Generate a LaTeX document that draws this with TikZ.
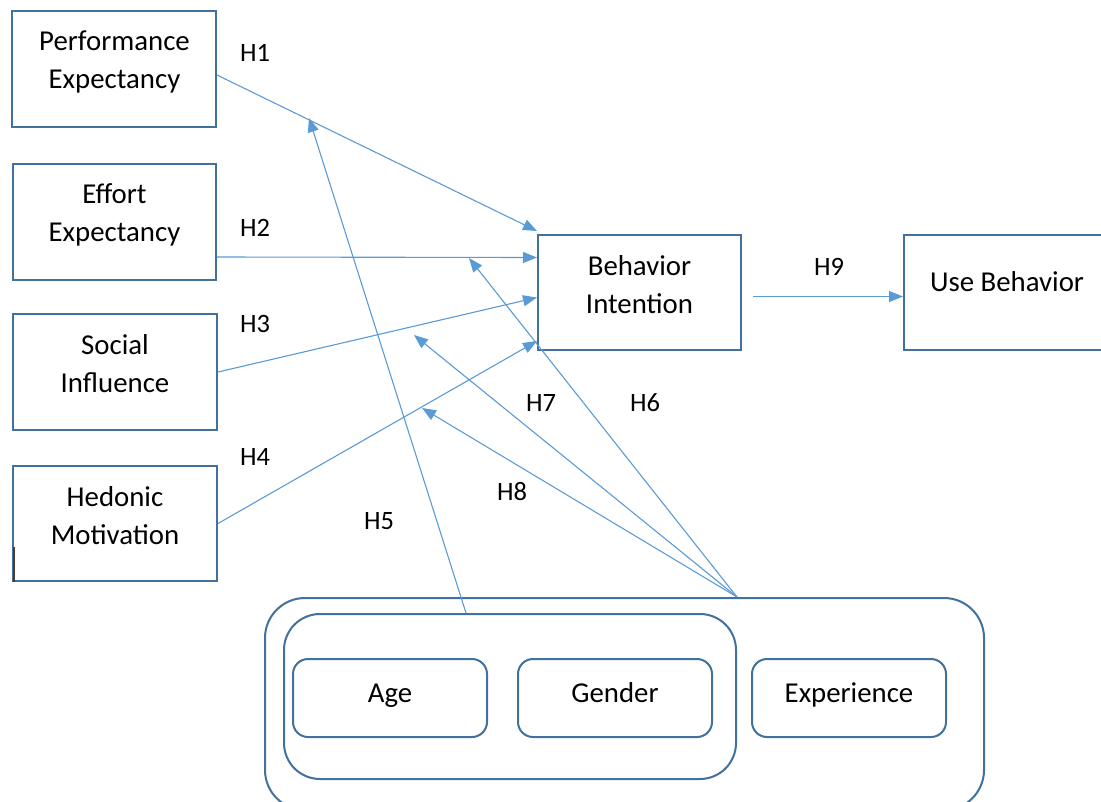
\documentclass[tikz,border=0pt]{standalone}
\usepackage{fontspec}
\setmainfont{Carlito}
\usetikzlibrary{arrows.meta,calc}
\definecolor{boxc}{RGB}{65,113,156}
\definecolor{arrc}{RGB}{91,155,213}
\definecolor{markc}{RGB}{80,60,45}
\begin{document}
\begin{tikzpicture}[x=1pt,y=-1pt,
  box/.style={draw=boxc,line width=2pt,minimum width=204,minimum height=116,inner sep=0pt},
  rbox/.style={draw=boxc,line width=2pt,rounded corners=#1,inner sep=0pt},
  txt/.style={font=\fontsize{28.8}{38}\selectfont,align=center,inner sep=0pt},
  hlab/.style={font=\fontsize{26.5}{30}\selectfont,inner sep=0pt},
  conn/.style={draw=arrc,line width=1.1pt,-{Triangle[length=14pt,width=11pt]}}]
\useasboundingbox (0,0) rectangle (1101,801);
\clip (0,0) rectangle (1101,801);
\fill[white] (0,0) rectangle (1101,801);
% left boxes
\node[box] (pe) at (114,69) {};
\node[box,minimum width=203] (ee) at (114.5,222) {};
\node[box] (si) at (115,372) {};
\node[box,minimum height=115] (hm) at (115,523.5) {};
\node[txt] (pet) at (114.5,61.5) {Performance\\Expectancy};
\node[txt] (eet) at (114.5,214.5) {Effort\\Expectancy};
\node[txt] (sit) at (115,364) {Social\\Influence};
\node[txt] (hmt) at (115,516) {Hedonic\\Motivation};
\draw[markc,line width=2pt] ($(hm.south west)+(1.5,0)$) -- ++(0,-35);
% center and right boxes
\node[box,minimum width=203,minimum height=115] (bi) at (639.5,292.5) {};
\node[txt] (bit) at (639.5,284.5) {Behavior\\Intention};
\node[box,minimum width=202,minimum height=115] (ub) at (1005,292.5) {};
\node[txt] (ubt) at (1007,282) {Use Behavior};
% moderators
\node[rbox=40pt,minimum width=719,minimum height=212] (outer) at (624.5,704) {};
\node[rbox=36pt,minimum width=452,minimum height=165] (inner) at (510,696.5) {};
\node[rbox=15pt,minimum width=194,minimum height=78] (age) at (390,698) {};
\node[rbox=15pt,minimum width=194,minimum height=78] (gen) at (615,698) {};
\node[rbox=15pt,minimum width=194,minimum height=78] (exp) at (849,698) {};
\node[txt,anchor=base] (aget) at (390,702) {Age};
\node[txt,anchor=base] (gent) at (615,702) {Gender};
\node[txt,anchor=base] (expt) at (849,702) {Experience};
% free ends
\coordinate (m) at (inner.east |- outer.north);
\coordinate (h5e) at (309,118);
\coordinate (h6e) at (469,258);
\coordinate (h7e) at (414,335);
\coordinate (h8e) at (422,408);
% connectors
\draw[conn] ($(pe.east)+(0,6)$) -- ($(bi.north west)+(0,-3)$);
\draw[conn] ($(ee.east)+(0,35)$) -- ($(bi.west)+(0,-35)$);
\draw[conn] (si.east) -- ($(bi.west)+(0,5)$);
\draw[conn] (hm.east) -- ($(bi.south west)+(0,-10)$);
\draw[conn] ($(bi.east)+(11,4)$) -- ($(ub.west)+(0,4)$);
\draw[conn] ($(inner.north)+(-44,0)$) -- (h5e);
\draw[conn] (m) -- (h6e);
\draw[conn] (m) -- (h7e);
\draw[conn] (m) -- (h8e);
% labels
\node[hlab] (l1) at (255,53) {H1};
\node[hlab] (l2) at (255,228) {H2};
\node[hlab] (l3) at (255,324) {H3};
\node[hlab] (l4) at (255,457) {H4};
\node[hlab] (l5) at (379,521) {H5};
\node[hlab] (l6) at (645,403) {H6};
\node[hlab] (l7) at (541,403) {H7};
\node[hlab] (l8) at (512,492) {H8};
\node[hlab] (l9) at (829,267) {H9};
\end{tikzpicture}
\end{document}
